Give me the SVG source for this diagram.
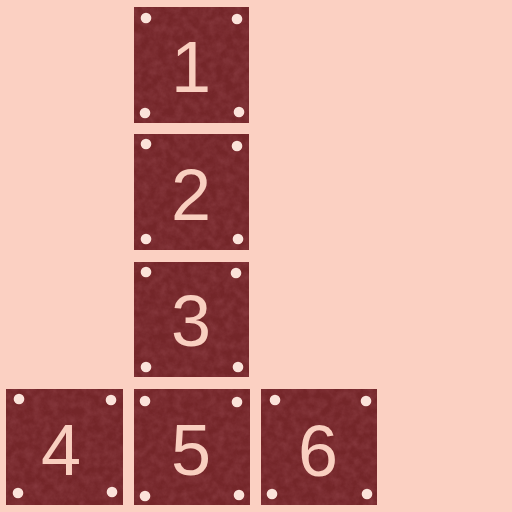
<svg xmlns="http://www.w3.org/2000/svg" width="512" height="512" viewBox="0 0 512 512">
<style>
.tile{fill:#742629;}
.tex{fill:#5a1a1e;opacity:0.45;}
.dot{fill:#fbe3da;}
.num{font-family:"Liberation Sans",Arial,sans-serif;font-size:72px;fill:#f9cfc0;text-anchor:middle;}
</style>
<defs>
<filter id="grain" x="0" y="0" width="100%" height="100%">
<feTurbulence type="fractalNoise" baseFrequency="0.12" numOctaves="4" seed="3" result="n"/>
<feColorMatrix in="n" type="matrix" values="0 0 0 0 0.35  0 0 0 0 0.08  0 0 0 0 0.10  0 0 0 -1.4 1.0"/>
<feComposite in2="SourceGraphic" operator="in"/>
</filter>
<filter id="soft"><feGaussianBlur stdDeviation="0.7"/></filter>
</defs>
<rect width="512" height="512" fill="#fbd0c2"/>
<g id="node1">
<rect class="tile" x="134" y="7" width="115" height="116"/>
<rect class="tex" x="134" y="7" width="115" height="116" filter="url(#grain)"/>
<g class="dot" filter="url(#soft)"><circle cx="146" cy="18" r="5.3"/><circle cx="237" cy="19" r="5.3"/><circle cx="145" cy="113" r="5.3"/><circle cx="239" cy="112" r="5.3"/></g>
<text class="num" x="191" y="92">1</text>
</g>
<g id="node2">
<rect class="tile" x="134" y="134" width="115" height="116"/>
<rect class="tex" x="134" y="134" width="115" height="116" filter="url(#grain)"/>
<g class="dot" filter="url(#soft)"><circle cx="146" cy="144" r="5.3"/><circle cx="237" cy="146" r="5.3"/><circle cx="146" cy="239" r="5.3"/><circle cx="238" cy="239" r="5.3"/></g>
<text class="num" x="191" y="220">2</text>
</g>
<g id="node3">
<rect class="tile" x="134" y="262" width="115" height="115"/>
<rect class="tex" x="134" y="262" width="115" height="115" filter="url(#grain)"/>
<g class="dot" filter="url(#soft)"><circle cx="146" cy="272" r="5.3"/><circle cx="236" cy="273" r="5.3"/><circle cx="146" cy="367" r="5.3"/><circle cx="238" cy="367" r="5.3"/></g>
<text class="num" x="191" y="346">3</text>
</g>
<g id="node4">
<rect class="tile" x="6" y="389" width="117" height="116"/>
<rect class="tex" x="6" y="389" width="117" height="116" filter="url(#grain)"/>
<g class="dot" filter="url(#soft)"><circle cx="19" cy="399" r="5.3"/><circle cx="111" cy="400" r="5.3"/><circle cx="18" cy="493" r="5.3"/><circle cx="112" cy="492" r="5.3"/></g>
<text class="num" x="61" y="475">4</text>
</g>
<g id="node5">
<rect class="tile" x="134" y="389" width="116" height="116"/>
<rect class="tex" x="134" y="389" width="116" height="116" filter="url(#grain)"/>
<g class="dot" filter="url(#soft)"><circle cx="145" cy="401" r="5.3"/><circle cx="237" cy="402" r="5.3"/><circle cx="145" cy="496" r="5.3"/><circle cx="239" cy="495" r="5.3"/></g>
<text class="num" x="191" y="475">5</text>
</g>
<g id="node6">
<rect class="tile" x="261" y="389" width="116" height="116"/>
<rect class="tex" x="261" y="389" width="116" height="116" filter="url(#grain)"/>
<g class="dot" filter="url(#soft)"><circle cx="275" cy="400" r="5.3"/><circle cx="366" cy="401" r="5.3"/><circle cx="272" cy="494" r="5.3"/><circle cx="367" cy="494" r="5.3"/></g>
<text class="num" x="318" y="476">6</text>
</g>
<g id="connectors"></g>
</svg>
